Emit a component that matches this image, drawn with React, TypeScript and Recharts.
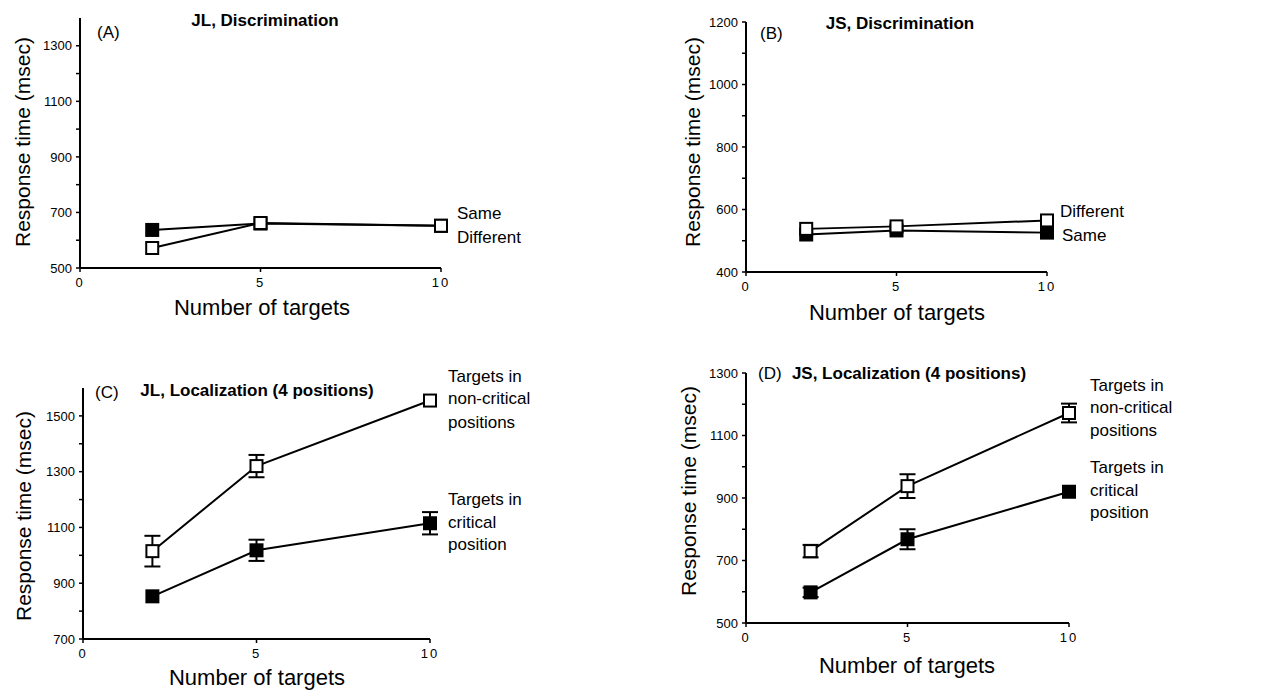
import React from 'react';
import { LineChart, Line, XAxis, YAxis, ErrorBar } from 'recharts';

// number of targets on the x axis
const targets = [2, 5, 10];
const xTicks = [0, 5, 10];

// (A) JL, Discrimination
const jlDiscSame = [637, 660, 652];
const jlDiscDiff = [572, 662, 652];

// (B) JS, Discrimination
const jsDiscDiff = [538, 546, 565];
const jsDiscSame = [520, 533, 526];

// (C) JL, Localization
const jlLocNonCrit = [1015, 1320, 1555];
const jlLocNonCritErr = [55, 40, 0];
const jlLocCrit = [853, 1018, 1115];
const jlLocCritErr = [0, 38, 40];

// (D) JS, Localization
const jsLocNonCrit = [730, 938, 1172];
const jsLocNonCritErr = [20, 38, 30];
const jsLocCrit = [598, 768, 920];
const jsLocCritErr = [15, 32, 0];

// y ticks (every 100) and the ones that carry a label
const yTicksA = [500, 600, 700, 800, 900, 1000, 1100, 1200, 1300];
const yLabelsA = [500, 700, 900, 1100, 1300];
const yTicksB = [400, 500, 600, 700, 800, 900, 1000, 1100, 1200];
const yLabelsB = [400, 600, 800, 1000, 1200];
const yTicksC = [700, 800, 900, 1000, 1100, 1200, 1300, 1400, 1500];
const yLabelsC = [700, 900, 1100, 1300, 1500];
const yTicksD = [500, 600, 700, 800, 900, 1000, 1100, 1200, 1300];
const yLabelsD = [500, 700, 900, 1100, 1300];

const W = 1274;
const H = 690;
const FONT = '"Liberation Sans", Arial, Helvetica, sans-serif';

const rows = (series: Record<string, number[]>) =>
  targets.map((t, i) => {
    const r: any = { n: t };
    Object.keys(series).forEach((k) => (r[k] = series[k][i]));
    return r;
  });

const square = (filled: boolean, name: string) => (props: any) => {
  const { cx, cy, index } = props;
  if (cx == null || cy == null) return <g key={`${name}-${index}`} />;
  return (
    <rect
      key={`${name}-${index}`}
      x={cx - 6}
      y={cy - 6}
      width={12}
      height={12}
      fill={filled ? '#000' : '#fff'}
      stroke='#000'
      strokeWidth={2}
    />
  );
};

interface SeriesDef {
  key: string;
  filled: boolean;
  err?: string;
}

interface PanelProps {
  box: { left: number; right: number; top: number; bottom: number };
  data: any[];
  series: SeriesDef[];
  domain: [number, number];
  ticks: number[];
  labels: number[];
}

const Panel: React.FC<PanelProps> = ({ box, data, series, domain, ticks, labels }) => {
  const yw = 50;
  const xh = 30;
  return (
    <div style={{ position: 'absolute', left: 0, top: 0 }}>
      <LineChart
        width={W}
        height={H}
        data={data}
        margin={{
          top: box.top,
          left: box.left - yw,
          right: W - box.right,
          bottom: H - box.bottom - xh,
        }}
      >
        <XAxis
          type='number'
          dataKey='n'
          domain={[0, 10]}
          ticks={xTicks}
          height={xh}
          axisLine={{ stroke: '#000', strokeWidth: 2 }}
          tickLine={{ stroke: '#000', strokeWidth: 1.5 }}
          tickSize={4}
          tickMargin={6}
          tick={{ fontSize: 13, fill: '#000', fontFamily: FONT, letterSpacing: 2 }}
        />
        <YAxis
          type='number'
          domain={domain}
          ticks={ticks}
          width={yw}
          allowDataOverflow
          axisLine={{ stroke: '#000', strokeWidth: 2 }}
          tickLine={{ stroke: '#000', strokeWidth: 1.5 }}
          tickSize={4}
          tickMargin={4}
          tickFormatter={(v: number) => (labels.includes(v) ? String(v) : '')}
          tick={{ fontSize: 13, fill: '#000', fontFamily: FONT }}
        />
        {series.map((s) => (
          <Line
            key={s.key}
            dataKey={s.key}
            stroke='#000'
            strokeWidth={2}
            dot={square(s.filled, s.key)}
            activeDot={false}
            isAnimationActive={false}
          >
            {s.err && (
              <ErrorBar dataKey={s.err} width={8} stroke='#000' strokeWidth={2} direction='y' />
            )}
          </Line>
        ))}
      </LineChart>
    </div>
  );
};

const texts = [
  // (A)
  { x: 97, y: 32, t: '(A)', a: 'start', s: 17 },
  { x: 265, y: 20, t: 'JL, Discrimination', a: 'middle', s: 17, b: true },
  { x: 457, y: 213, t: 'Same', a: 'start', s: 17 },
  { x: 457, y: 237, t: 'Different', a: 'start', s: 17 },
  { x: 262, y: 307, t: 'Number of targets', a: 'middle', s: 22 },
  // (B)
  { x: 760, y: 33, t: '(B)', a: 'start', s: 17 },
  { x: 900, y: 23, t: 'JS, Discrimination', a: 'middle', s: 17, b: true },
  { x: 1060, y: 211, t: 'Different', a: 'start', s: 17 },
  { x: 1062, y: 235, t: 'Same', a: 'start', s: 17 },
  { x: 897, y: 312, t: 'Number of targets', a: 'middle', s: 22 },
  // (C)
  { x: 95, y: 392, t: '(C)', a: 'start', s: 17 },
  { x: 257, y: 390, t: 'JL, Localization (4 positions)', a: 'middle', s: 17, b: true },
  { x: 448, y: 376, t: 'Targets in', a: 'start', s: 17 },
  { x: 448, y: 398, t: 'non-critical', a: 'start', s: 17 },
  { x: 448, y: 422, t: 'positions', a: 'start', s: 17 },
  { x: 448, y: 499, t: 'Targets in', a: 'start', s: 17 },
  { x: 448, y: 522, t: 'critical', a: 'start', s: 17 },
  { x: 448, y: 544, t: 'position', a: 'start', s: 17 },
  { x: 257, y: 677, t: 'Number of targets', a: 'middle', s: 22 },
  // (D)
  { x: 758, y: 373, t: '(D)', a: 'start', s: 17 },
  { x: 909, y: 373, t: 'JS, Localization (4 positions)', a: 'middle', s: 17, b: true },
  { x: 1090, y: 385, t: 'Targets in', a: 'start', s: 17 },
  { x: 1090, y: 407, t: 'non-critical', a: 'start', s: 17 },
  { x: 1090, y: 430, t: 'positions', a: 'start', s: 17 },
  { x: 1090, y: 467, t: 'Targets in', a: 'start', s: 17 },
  { x: 1090, y: 490, t: 'critical', a: 'start', s: 17 },
  { x: 1090, y: 512, t: 'position', a: 'start', s: 17 },
  { x: 907, y: 665, t: 'Number of targets', a: 'middle', s: 22 },
];

const yTitles = [
  { x: 22, y: 142 },
  { x: 692, y: 142 },
  { x: 23, y: 516 },
  { x: 688, y: 491 },
];

export default function App() {
  return (
    <div style={{ position: 'absolute', left: 0, top: 0, width: W, height: H, background: '#fff' }}>
      <Panel
        box={{ left: 80, right: 441, top: 18, bottom: 268 }}
        data={rows({ same: jlDiscSame, diff: jlDiscDiff })}
        series={[
          { key: 'same', filled: true },
          { key: 'diff', filled: false },
        ]}
        domain={[500, 1400]}
        ticks={yTicksA}
        labels={yLabelsA}
      />
      <Panel
        box={{ left: 746, right: 1047, top: 22, bottom: 272 }}
        data={rows({ same: jsDiscSame, diff: jsDiscDiff })}
        series={[
          { key: 'same', filled: true },
          { key: 'diff', filled: false },
        ]}
        domain={[400, 1200]}
        ticks={yTicksB}
        labels={yLabelsB}
      />
      <Panel
        box={{ left: 83, right: 430, top: 388, bottom: 639 }}
        data={rows({
          crit: jlLocCrit,
          critErr: jlLocCritErr,
          non: jlLocNonCrit,
          nonErr: jlLocNonCritErr,
        })}
        series={[
          { key: 'crit', filled: true, err: 'critErr' },
          { key: 'non', filled: false, err: 'nonErr' },
        ]}
        domain={[700, 1600]}
        ticks={yTicksC}
        labels={yLabelsC}
      />
      <Panel
        box={{ left: 746, right: 1069, top: 373, bottom: 623 }}
        data={rows({
          crit: jsLocCrit,
          critErr: jsLocCritErr,
          non: jsLocNonCrit,
          nonErr: jsLocNonCritErr,
        })}
        series={[
          { key: 'crit', filled: true, err: 'critErr' },
          { key: 'non', filled: false, err: 'nonErr' },
        ]}
        domain={[500, 1300]}
        ticks={yTicksD}
        labels={yLabelsD}
      />
      <svg
        width={W}
        height={H}
        style={{ position: 'absolute', left: 0, top: 0, pointerEvents: 'none' }}
        fontFamily={FONT}
      >
        {texts.map((t, i) => (
          <text
            key={i}
            x={t.x}
            y={t.y}
            textAnchor={t.a as any}
            dominantBaseline='central'
            fontSize={t.s}
            fontWeight={t.b ? 'bold' : 'normal'}
            fill='#000'
          >
            {t.t}
          </text>
        ))}
        {yTitles.map((p, i) => (
          <text
            key={`y${i}`}
            x={p.x}
            y={p.y}
            transform={`rotate(-90 ${p.x} ${p.y})`}
            textAnchor='middle'
            dominantBaseline='central'
            fontSize={21}
            fill='#000'
          >
            Response time (msec)
          </text>
        ))}
      </svg>
    </div>
  );
}
